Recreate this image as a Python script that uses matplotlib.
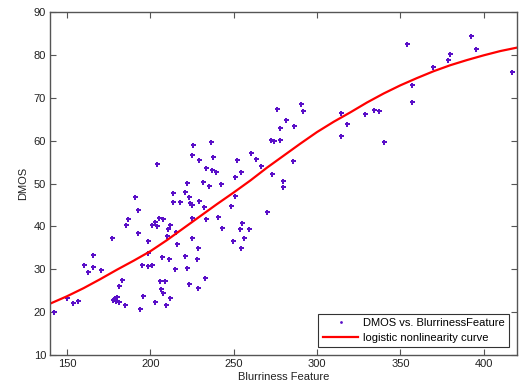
import matplotlib
matplotlib.use("Agg")
import matplotlib.pyplot as plt

plt.rcParams['font.family'] = ['Liberation Sans', 'DejaVu Sans']

# Scatter data: Blurriness feature vs DMOS
blur_x = [142.4, 150.0, 153.7, 156.4, 160.3, 162.6, 165.8, 165.8, 170.6, 177.0,
          177.8, 178.6, 179.2, 179.8, 181.0, 181.2, 183.3, 185.0, 185.6, 186.6,
          190.8, 192.4, 192.4, 193.8, 195.2, 195.7, 198.7, 198.7, 198.7,
          201.1, 201.1, 202.6, 203.0, 203.9, 204.0, 205.3, 205.8, 206.2, 207.2,
          207.8, 207.8, 209.0, 209.2, 210.0, 211.1, 210.7, 211.8, 212.0, 213.4,
          213.7, 215.5, 214.8, 215.8, 218.0, 220.9, 220.7, 222.0, 222.2, 223.0,
          223.5, 224.0, 224.9, 225.0, 225.0, 224.8, 225.4, 228.0, 228.7, 228.8,
          229.2, 229.2,
          231.8, 232.3, 232.8, 233.3, 233.4, 235.4, 236.6, 237.0, 237.6, 239.6,
          240.7, 242.4, 242.9, 248.7, 249.8, 250.8, 250.9, 251.9, 253.9, 254.6,
          254.7, 255.0, 256.2, 259.2,
          260.5, 263.2, 266.3, 270.0, 272.6, 273.2, 274.4, 275.8, 277.9, 278.0,
          279.6, 279.6, 281.2, 285.4, 286.4, 290.7, 291.8, 314.6, 317.8, 314.1,
          329.0, 334.3, 337.4, 340.0, 353.8, 357.2, 357.2, 369.8, 378.4, 379.9,
          392.1, 395.4, 416.7]
dmos_y = [20.0, 23.3, 22.1, 22.5, 30.9, 29.3, 33.4, 30.5, 29.9, 37.2,
          22.8, 23.2, 22.7, 23.5, 22.4, 26.2, 27.5, 21.7, 40.4, 41.8,
          46.8, 43.8, 38.5, 20.7, 30.9, 23.8, 36.6, 33.8, 30.7,
          30.9, 40.4, 22.4, 41.1, 40.1, 54.5, 41.9, 27.2, 25.4, 32.9,
          41.7, 24.5, 27.2, 21.7, 37.7, 32.3, 39.3, 40.4, 23.2, 45.7,
          47.7, 38.6, 30.0, 35.8, 45.8, 33.0, 48.1, 30.3, 50.1, 46.9,
          26.6, 45.4, 37.4, 44.9, 41.9, 56.7, 58.9, 32.3, 35.0, 25.6,
          46.0, 55.6,
          50.3, 44.6, 27.9, 41.8, 53.6, 49.5, 59.7, 53.2, 56.2, 52.7,
          42.2, 49.9, 39.7, 44.7, 36.7, 47.0, 51.6, 55.4, 39.5, 35.0,
          52.6, 40.8, 37.3, 39.3,
          57.2, 55.8, 54.2, 43.4, 60.1, 52.2, 60.0, 67.3, 60.1, 63.0,
          50.6, 49.3, 64.8, 55.2, 63.5, 68.5, 66.9, 66.5, 63.8, 61.0,
          66.1, 67.1, 66.9, 59.6, 82.5, 72.9, 69.1, 77.1, 78.8, 80.2,
          84.5, 81.4, 76.1]

# Fitted logistic curve
curve_x = [140, 150, 160, 170, 180, 190, 200, 210, 220, 230, 240, 250, 260, 270, 280,
           290, 300, 310, 320, 330, 340, 350, 360, 370, 380, 390, 400, 410, 420]
curve_y = [22.0, 23.7, 25.6, 27.7, 29.9, 32.0, 34.2, 36.8, 39.6, 42.4, 45.2, 47.9, 50.7,
           53.7, 56.5, 59.3, 62.0, 64.4, 66.6, 68.9, 71.0, 72.9, 74.6, 76.2, 77.6, 78.8,
           79.9, 80.9, 81.7]

fig = plt.figure(figsize=(5.19, 3.88), dpi=100)
ax = fig.add_axes([0.0969, 0.085, 0.8993, 0.884])

ax.plot(blur_x, dmos_y, linestyle='none', marker='P', markersize=3.6,
        color='#5a0fc8', markeredgewidth=0, label='DMOS vs. BlurrinessFeature')
ax.plot(curve_x, curve_y, color='#ff0000', linewidth=1.6,
        label='logistic nonlinearity curve')

ax.set_xlim(140, 420)
ax.set_ylim(10, 90)
ax.set_xticks([150, 200, 250, 300, 350, 400])
ax.set_yticks([10, 20, 30, 40, 50, 60, 70, 80, 90])

axis_col = '#555555'
for s in ax.spines.values():
    s.set_color(axis_col)
    s.set_linewidth(1.0)
ax.tick_params(direction='in', length=4, width=0.8, color=axis_col,
               top=True, right=True, labelsize=8, labelcolor='#222222', pad=3)

ax.set_xlabel('Blurriness Feature', fontsize=8, color='#222222', labelpad=2)
ax.set_ylabel('DMOS', fontsize=8, color='#222222', labelpad=4)

leg = ax.legend(loc='lower right', bbox_to_anchor=(0.983, 0.023), borderaxespad=0,
                fontsize=8, fancybox=False, frameon=True, edgecolor='black',
                handlelength=3.2, handletextpad=0.4, borderpad=0.4, labelspacing=0.4)
leg.get_frame().set_linewidth(0.8)
leg.legend_handles[0].set_marker('.')
leg.legend_handles[0].set_markersize(4)

fig.savefig('out.png', dpi=100)
